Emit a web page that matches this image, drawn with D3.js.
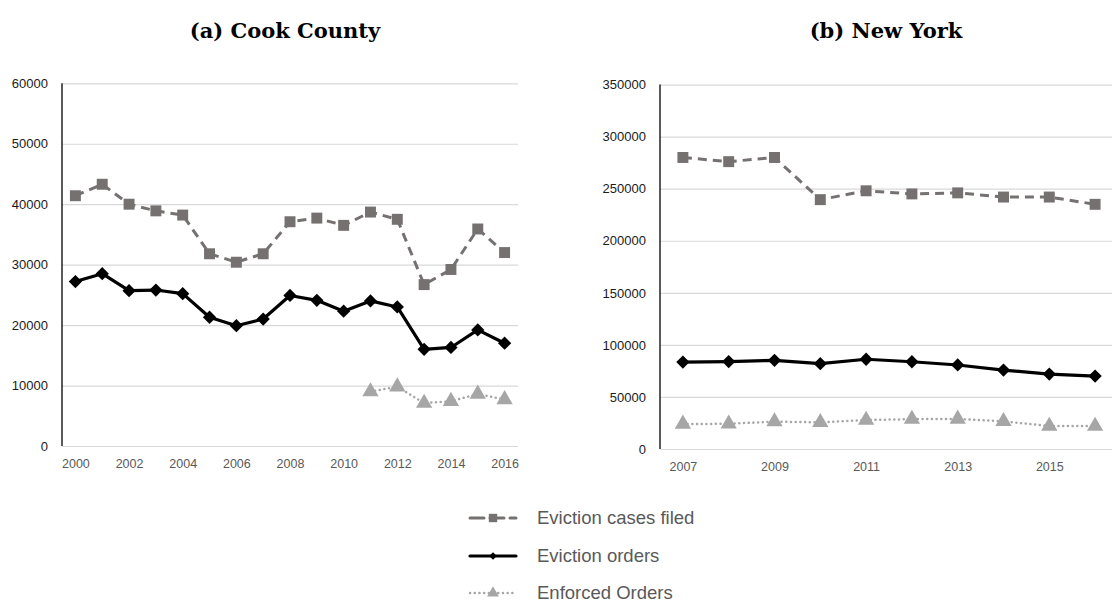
<!DOCTYPE html>
<html><head><meta charset="utf-8">
<script src="https://cdn.jsdelivr.net/npm/d3@7"></script>
<style>
body{margin:0;background:#fff;}
svg{display:block;}
</style></head>
<body>
<svg id="chart" width="1112" height="603"></svg>
<script>
// ---- data ----
const cookYears = d3.range(2000, 2017);
const cookFiled = [41400, 43300, 40000, 38900, 38200, 31800, 30400, 31800, 37100, 37700, 36500, 38700, 37500, 26700, 29200, 35900, 32000];
const cookOrders = [27200, 28500, 25700, 25800, 25200, 21300, 19900, 21000, 24900, 24100, 22300, 24000, 23000, 16000, 16300, 19200, 17000];
const cookEnforcedYears = [2011, 2012, 2013, 2014, 2015, 2016];
const cookEnforced = [9000, 9800, 7100, 7400, 8600, 7700];
const cookYTicks = [0, 10000, 20000, 30000, 40000, 50000, 60000];
const cookXTicks = [2000, 2002, 2004, 2006, 2008, 2010, 2012, 2014, 2016];

const nyYears = d3.range(2007, 2017);
const nyFiled = [280000, 276000, 280000, 239500, 248000, 245000, 246000, 242000, 242000, 235000];
const nyOrders = [83500, 84000, 85200, 82000, 86200, 83800, 80700, 75800, 72000, 70000];
const nyEnforced = [24000, 24200, 26300, 25600, 27800, 28700, 28800, 26600, 22000, 22000];
const nyYTicks = [0, 50000, 100000, 150000, 200000, 250000, 300000, 350000];
const nyXTicks = [2007, 2009, 2011, 2013, 2015];

const titles = ["(a) Cook County", "(b) New York"];
const legendLabels = ["Eviction cases filed", "Eviction orders", "Enforced Orders"];

// ---- styles ----
const styles = [
  {color: "#767171", width: 3, dash: "9,6", cap: "butt", symbol: d3.symbolSquare, size: 120, rot: 0},
  {color: "#000000", width: 3.2, dash: null, cap: "butt", symbol: d3.symbolSquare, size: 88, rot: 45},
  {color: "#a6a6a6", width: 2.5, dash: "0.1,4.6", cap: "round", symbol: d3.symbolTriangle, size: 115, rot: 0}
];

const svg = d3.select("#chart");

function panel(cfg) {
  const x = d3.scalePoint().domain(cfg.years).range([cfg.x0, cfg.x1]).padding(0.5);
  const y = d3.scaleLinear().domain([0, cfg.ymax]).range([cfg.y0, cfg.y1]);
  const g = svg.append("g");

  // gridlines
  const grid = g.append("g").attr("transform", `translate(${cfg.x0},0)`)
    .call(d3.axisLeft(y).tickValues(cfg.yTicks).tickSize(-(cfg.x1 - cfg.x0)).tickFormat(""));
  grid.select(".domain").remove();
  grid.selectAll(".tick line").attr("stroke", "#d9d9d9").attr("stroke-width", 1.2);

  // y labels
  const ya = g.append("g").attr("transform", `translate(${cfg.x0 - 14},0)`)
    .call(d3.axisLeft(y).tickValues(cfg.yTicks).tickSize(0).tickPadding(0).tickFormat(d3.format("d")));
  ya.select(".domain").remove();
  ya.selectAll("text").attr("font-family", "Liberation Sans, Arial, sans-serif").attr("font-size", 13).attr("fill", "#1a1a1a");

  // x labels
  const xa = g.append("g").attr("transform", `translate(0,${cfg.y0})`)
    .call(d3.axisBottom(x).tickValues(cfg.xTicks).tickSize(0).tickPadding(13).tickFormat(d3.format("d")));
  xa.select(".domain").remove();
  xa.selectAll("text").attr("font-family", "Liberation Sans Narrow, Liberation Sans, Arial, sans-serif").attr("font-size", 12.5).attr("fill", "#595959");

  // y axis line
  g.append("line").attr("x1", cfg.x0).attr("x2", cfg.x0).attr("y1", y(cfg.ymax)).attr("y2", y(0))
    .attr("stroke", "#000").attr("stroke-width", 1.3);

  // series
  cfg.series.forEach((s, i) => {
    const st = styles[i];
    const pts = s.years.map((yr, k) => [x(yr), y(s.values[k])]);
    g.append("path").attr("d", d3.line()(pts)).attr("fill", "none")
      .attr("stroke", st.color).attr("stroke-width", st.width)
      .attr("stroke-dasharray", st.dash).attr("stroke-linecap", st.cap).attr("stroke-linejoin", "round");
    g.selectAll(null).data(pts).join("path")
      .attr("transform", d => `translate(${d[0]},${d[1]}) rotate(${st.rot})`)
      .attr("d", d3.symbol().type(st.symbol).size(st.size))
      .attr("fill", st.color);
  });

  // title
  svg.append("text").attr("x", cfg.titleX).attr("y", 38).attr("text-anchor", "middle")
    .attr("font-family", "DejaVu Serif, serif").attr("font-weight", "bold").attr("font-size", 21)
    .attr("fill", "#000").text(cfg.title);
}

panel({years: cookYears, x0: 62, x1: 518, y0: 446, y1: 83.3, ymax: 60000,
  yTicks: cookYTicks, xTicks: cookXTicks, title: titles[0], titleX: 285,
  series: [
    {years: cookYears, values: cookFiled},
    {years: cookYears, values: cookOrders},
    {years: cookEnforcedYears, values: cookEnforced}
  ]});

panel({years: nyYears, x0: 660, x1: 1118, y0: 449, y1: 84.6, ymax: 350000,
  yTicks: nyYTicks, xTicks: nyXTicks, title: titles[1], titleX: 886,
  series: [
    {years: nyYears, values: nyFiled},
    {years: nyYears, values: nyOrders},
    {years: nyYears, values: nyEnforced}
  ]});

// legend
const lg = svg.append("g");
const rowsY = [518, 556, 593];
const legendSizes = [70, 30, 60];
legendLabels.forEach((lab, i) => {
  const st = styles[i];
  const cy = rowsY[i];
  lg.append("line").attr("x1", 470).attr("x2", 516).attr("y1", cy).attr("y2", cy)
    .attr("stroke", st.color).attr("stroke-width", st.width)
    .attr("stroke-dasharray", i === 0 ? "14,6" : st.dash).attr("stroke-linecap", "round");
  lg.append("path").attr("transform", `translate(493,${cy}) rotate(${st.rot})`)
    .attr("d", d3.symbol().type(st.symbol).size(legendSizes[i])).attr("fill", st.color);
  lg.append("text").attr("x", 537).attr("y", cy).attr("dy", "0.35em")
    .attr("font-family", "Liberation Sans, Arial, sans-serif").attr("font-size", 18.5)
    .attr("fill", "#595959").text(lab);
});
</script>
</body></html>
